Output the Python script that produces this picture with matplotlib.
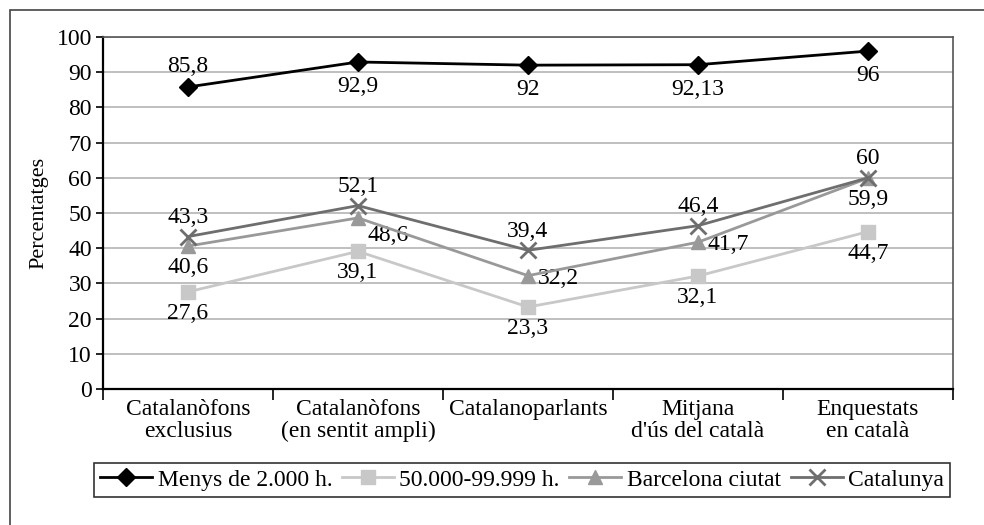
import matplotlib.pyplot as plt
from matplotlib.lines import Line2D
from matplotlib.patches import Rectangle

plt.rcParams['font.family'] = ['Liberation Serif', 'DejaVu Serif']

categories = ['Catalanòfons\nexclusius', 'Catalanòfons\n(en sentit ampli)', 'Catalanoparlants',
              'Mitjana\nd\'ús del català', 'Enquestats\nen català']
menys_2000 = [85.8, 92.9, 92, 92.13, 96]
h_50000 = [27.6, 39.1, 23.3, 32.1, 44.7]
barcelona = [40.6, 48.6, 32.2, 41.7, 59.9]
catalunya = [43.3, 52.1, 39.4, 46.4, 60]
labels_menys = ['85,8', '92,9', '92', '92,13', '96']
labels_50000 = ['27,6', '39,1', '23,3', '32,1', '44,7']
labels_bcn = ['40,6', '48,6', '32,2', '41,7', '59,9']
labels_cat = ['43,3', '52,1', '39,4', '46,4', '60']

fig = plt.figure(figsize=(9.84, 5.25), dpi=100)
ax = fig.add_axes([103 / 984, 1 - 389 / 525, 850 / 984, 352 / 525])

# outer frame (only top and left visible)
fig.patches.append(Rectangle((10 / 984, -0.1), 1.2, 1 - 10 / 525 + 0.1, transform=fig.transFigure,
                             fill=False, edgecolor='#444444', linewidth=1.2))

x = list(range(len(categories)))
ax.plot(x, h_50000, color='#c8c8c8', lw=2, marker='s', ms=10, label='50.000-99.999 h.', zorder=3)
ax.plot(x, barcelona, color='#999999', lw=2, marker='^', ms=10, label='Barcelona ciutat', zorder=4)
ax.plot(x, catalunya, color='#6e6e6e', lw=2, marker='x', ms=11, mew=2, label='Catalunya', zorder=5)
ax.plot(x, menys_2000, color='black', lw=2, marker='D', ms=9, label='Menys de 2.000 h.', zorder=6)

fs = 17
for i in x:
    off = 7 if i == 0 else -10
    ax.annotate(labels_menys[i], (i, menys_2000[i]), xytext=(0, off), textcoords='offset points',
                ha='center', va='bottom' if off > 0 else 'top', fontsize=fs)
    ax.annotate(labels_cat[i], (i, catalunya[i]), xytext=(0, 6), textcoords='offset points',
                ha='center', va='bottom', fontsize=fs)
    ax.annotate(labels_50000[i], (i, h_50000[i]), xytext=(0, -8), textcoords='offset points',
                ha='center', va='top', fontsize=fs)
    if i in (1, 2, 3):
        ax.annotate(labels_bcn[i], (i, barcelona[i]), xytext=(7, -2 if i != 1 else -5),
                    textcoords='offset points', ha='left', va='top' if i == 1 else 'center', fontsize=fs)
    else:
        ax.annotate(labels_bcn[i], (i, barcelona[i]), xytext=(0, -8), textcoords='offset points',
                    ha='center', va='top', fontsize=fs)

ax.set_xlim(-0.5, 4.5)
ax.set_ylim(0, 100)
ax.set_yticks(range(0, 101, 10))
ax.set_xticks([i + 0.5 for i in range(-1, 5)], minor=True)
ax.set_xticks(x)
ax.set_xticklabels(categories, fontsize=fs, linespacing=1.05)
ax.tick_params(axis='x', which='major', length=0, pad=7)
ax.tick_params(axis='x', which='minor', length=8, width=1.2, color='black')
ax.tick_params(axis='y', labelsize=fs, length=5, width=1.2, pad=3)
ax.set_ylabel('Percentatges', fontsize=16, labelpad=6)
ax.yaxis.grid(True, color='#b4b4b4', lw=1.2)
ax.set_axisbelow(True)
for s in ['top', 'right']:
    ax.spines[s].set_color('#555555')
    ax.spines[s].set_linewidth(1.2)
for s in ['left', 'bottom']:
    ax.spines[s].set_color('black')
    ax.spines[s].set_linewidth(1.6)

handles = [
    Line2D([], [], color='black', lw=2, marker='D', ms=9),
    Line2D([], [], color='#c8c8c8', lw=2, marker='s', ms=10),
    Line2D([], [], color='#999999', lw=2, marker='^', ms=10),
    Line2D([], [], color='#6e6e6e', lw=2, marker='x', ms=11, mew=2),
]
leg = fig.legend(handles, ['Menys de 2.000 h.', '50.000-99.999 h.', 'Barcelona ciutat', 'Catalunya'],
                 loc='center', bbox_to_anchor=(522 / 984, 1 - 480 / 525), ncol=4, fontsize=fs,
                 frameon=True, fancybox=False, edgecolor='black', handlelength=2.2, handletextpad=0.25,
                 columnspacing=0.4, borderpad=0.25, borderaxespad=0)
leg.get_frame().set_linewidth(1.2)

fig.savefig('out.png', dpi=100)
